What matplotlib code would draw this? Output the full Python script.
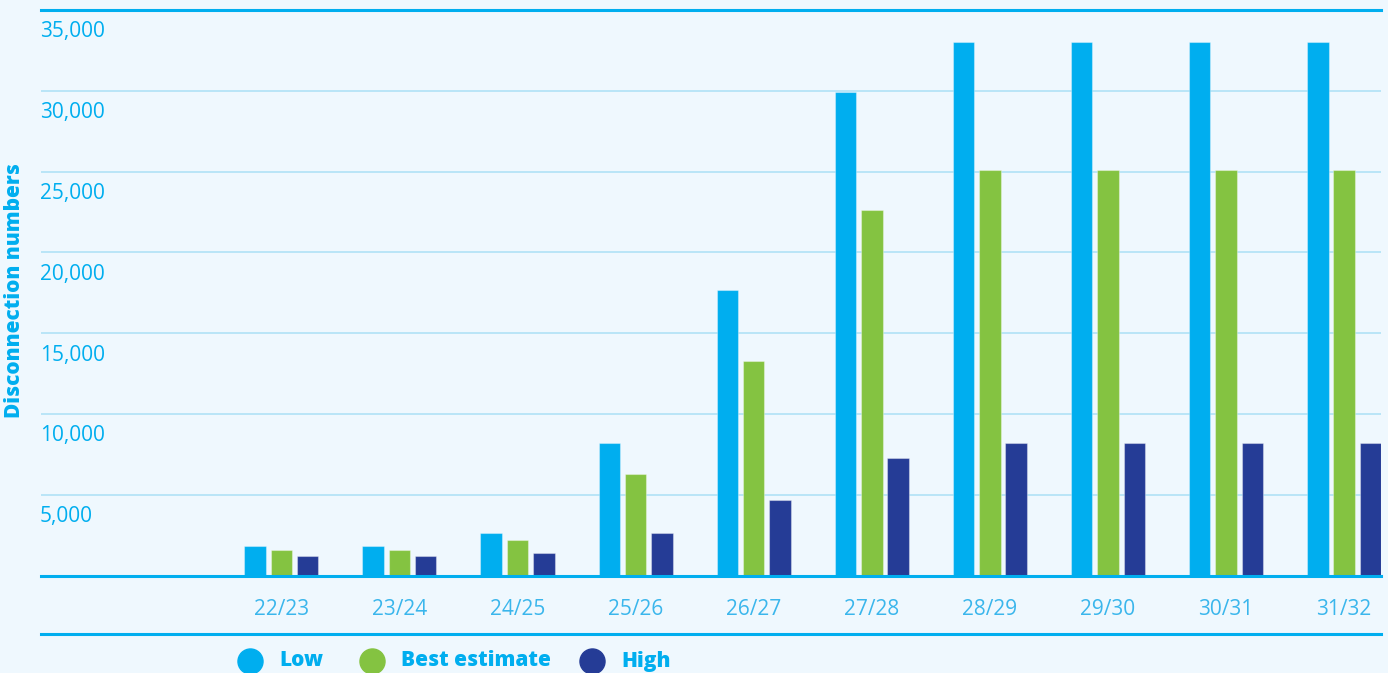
import numpy as np
import matplotlib
matplotlib.use("Agg")
import matplotlib.pyplot as plt

# Disconnection numbers per financial year
categories = ['22/23', '23/24', '24/25', '25/26', '26/27',
              '27/28', '28/29', '29/30', '30/31', '31/32']
low = [1800, 1800, 2600, 8200, 17700, 29900, 33000, 33000, 33000, 33000]
best = [1600, 1600, 2200, 6300, 13300, 22600, 25100, 25100, 25100, 25100]
high = [1200, 1200, 1400, 2600, 4700, 7300, 8200, 8200, 8200, 8200]
series_names = ['Low', 'Best estimate', 'High']
yticks = [5000, 10000, 15000, 20000, 25000, 30000, 35000]

CYAN = '#00aeef'
GREEN = '#84c341'
NAVY = '#253c96'
BG = '#eff8fe'
GRID = '#b5e3f7'
TICK_X = '#3ab6ec'

plt.rcParams['font.family'] = ['Open Sans', 'DejaVu Sans']

W, H = 1388, 673
fig = plt.figure(figsize=(W / 100, H / 100), dpi=100, facecolor=BG)
ax = fig.add_axes([41 / W, 1 - 575.5 / H, (1381 - 41) / W, (575.5 - 10) / H])
ax.set_facecolor(BG)

x = np.arange(len(categories))
width = 0.182
step = 0.223
colors = [CYAN, GREEN, NAVY]
for k, (vals, col) in enumerate(zip([low, best, high], colors)):
    ax.bar(x + (k - 1) * step, vals, width, color=col,
           edgecolor=(1, 1, 1, 0.35), linewidth=0.8, zorder=3)

ax.set_xlim(-2.035, 9.312)
ax.set_ylim(0, 35000)

# gridlines
for v in yticks[:-1]:
    ax.axhline(v, color=GRID, lw=1.3, zorder=1)
ax.axhline(35000, color=CYAN, lw=2.2, zorder=4, clip_on=False)
ax.axhline(0, color=CYAN, lw=2.2, zorder=4, clip_on=False)

for s in ax.spines.values():
    s.set_visible(False)

# y tick labels sit just below their gridline
ax.set_yticks([])
for v in yticks:
    ax.annotate(f'{v:,}', xy=(0, v), xycoords=ax.get_yaxis_transform(),
                xytext=(-1, -22), textcoords='offset pixels',
                ha='left', va='center', fontsize=15, color=CYAN)

ax.set_xticks(x)
ax.set_xticklabels(categories, fontsize=15, color=TICK_X)
ax.tick_params(axis='x', length=0, pad=17)

fig.text(15 / W, 1 - 291 / H, 'Disconnection numbers', rotation=90,
         ha='center', va='center', fontsize=15, fontweight=800, color=CYAN)

# bottom rule and legend (overlay in pixel coordinates)
ov = fig.add_axes([0, 0, 1, 1], facecolor='none')
ov.set_xlim(0, W)
ov.set_ylim(H, 0)
ov.axis('off')
ov.plot([41, 1381], [634, 634], color=CYAN, lw=2.2)
leg_circle_x = [250, 372, 592]
for cx, col, name in zip(leg_circle_x, colors, series_names):
    ov.scatter([cx], [661], s=25 ** 2 * 0.52, color=col, clip_on=False)
    ov.text(cx + 29, 661, name, ha='left', va='center', fontsize=15,
            fontweight=800, color=CYAN)

fig.savefig('out.png', dpi=100, facecolor=BG)
